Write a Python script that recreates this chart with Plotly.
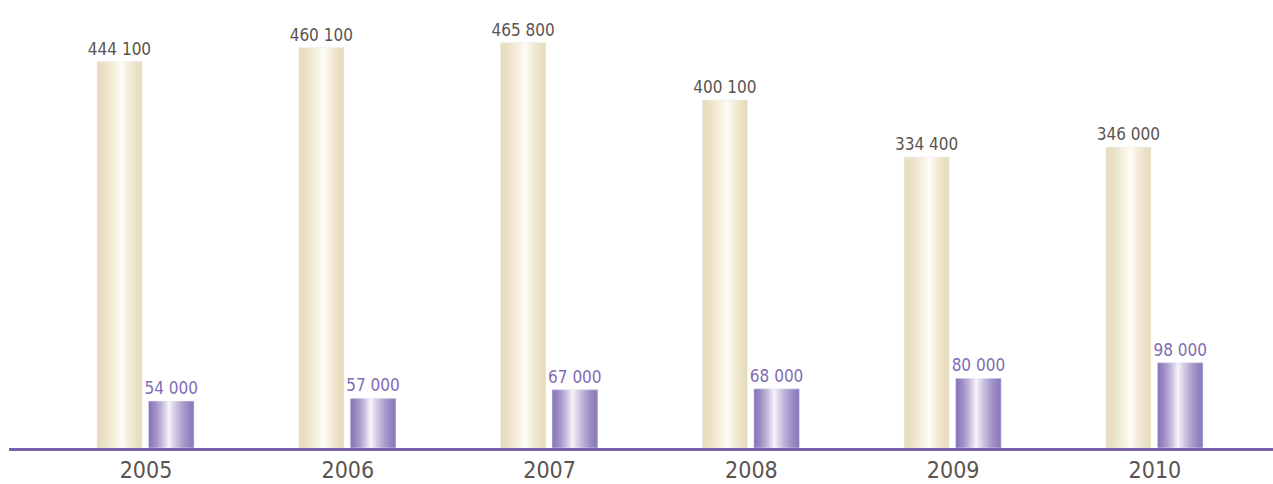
import plotly.graph_objects as go

years = ["2005", "2006", "2007", "2008", "2009", "2010"]
series_a = [444100, 460100, 465800, 400100, 334400, 346000]
series_b = [54000, 57000, 67000, 68000, 80000, 98000]

FONT = "'DejaVu Sans Condensed', 'Liberation Sans Narrow', 'Roboto Condensed', Roboto, sans-serif"


def fmt(v):
    return f"{v:,}".replace(",", " ")


def hex2rgb(h):
    h = h.lstrip("#")
    return tuple(int(h[i:i + 2], 16) for i in (0, 2, 4))


def mix(a, b, t):
    return "rgb(%d,%d,%d)" % tuple(round(a[i] + (b[i] - a[i]) * t) for i in range(3))


def gradient_bars(fig, values, offset, width, edge_l, mid, edge_r, center, n=30):
    el, m, er = hex2rgb(edge_l), hex2rgb(mid), hex2rgb(edge_r)
    step = width / n
    for k in range(n):
        u = (k + 0.5) / n
        if u <= center:
            t = u / center
            col = mix(el, m, t ** 1.5)
        else:
            t = (1 - u) / (1 - center)
            col = mix(er, m, t ** 1.5)
        w = min(step * 1.8, width - k * step)
        fig.add_trace(go.Bar(
            x=years, y=values, offset=offset + k * step, width=w,
            marker=dict(color=col, line=dict(width=0)),
            hoverinfo="skip", showlegend=False,
        ))


fig = go.Figure()

gradient_bars(fig, series_a, -0.243, 0.223, "#e8dcbc", "#fffdf8", "#e8dcbc", 0.55)
gradient_bars(fig, series_b, 0.012, 0.226, "#8a76b9", "#f7f5fa", "#8c7abb", 0.45)

label_common = dict(textposition="outside", cliponaxis=False, constraintext="none",
                    showlegend=False, marker=dict(color="rgba(0,0,0,0)"))
fig.add_trace(go.Bar(
    x=years, y=series_a, offset=-0.243, width=0.223,
    text=[fmt(v) for v in series_a],
    textfont=dict(family=FONT, size=17, color="#5b5350"),
    name="A", **label_common,
))
fig.add_trace(go.Bar(
    x=years, y=series_b, offset=0.012, width=0.226,
    text=[fmt(v) for v in series_b],
    textfont=dict(family=FONT, size=17, color="#7f6cb4"),
    name="B", **label_common,
))

fig.update_layout(
    width=1273, height=484,
    margin=dict(l=9, r=0, t=0, b=36),
    barmode="overlay",
    plot_bgcolor="white", paper_bgcolor="white",
    xaxis=dict(
        type="category", range=[-0.679, 5.585], automargin=False,
        showline=True, linecolor="#7a60aa", linewidth=2.5,
        showgrid=False, zeroline=False, ticks="", ticklabelstandoff=0,
        tickfont=dict(family=FONT, size=23, color="#5b5350"),
    ),
    yaxis=dict(range=[0, 515000], visible=False, showgrid=False, zeroline=False),
)

fig.write_html(
    "out.html",
    config={"displayModeBar": False},
    post_script="document.body.style.margin='0';document.body.style.overflow='hidden';",
)
